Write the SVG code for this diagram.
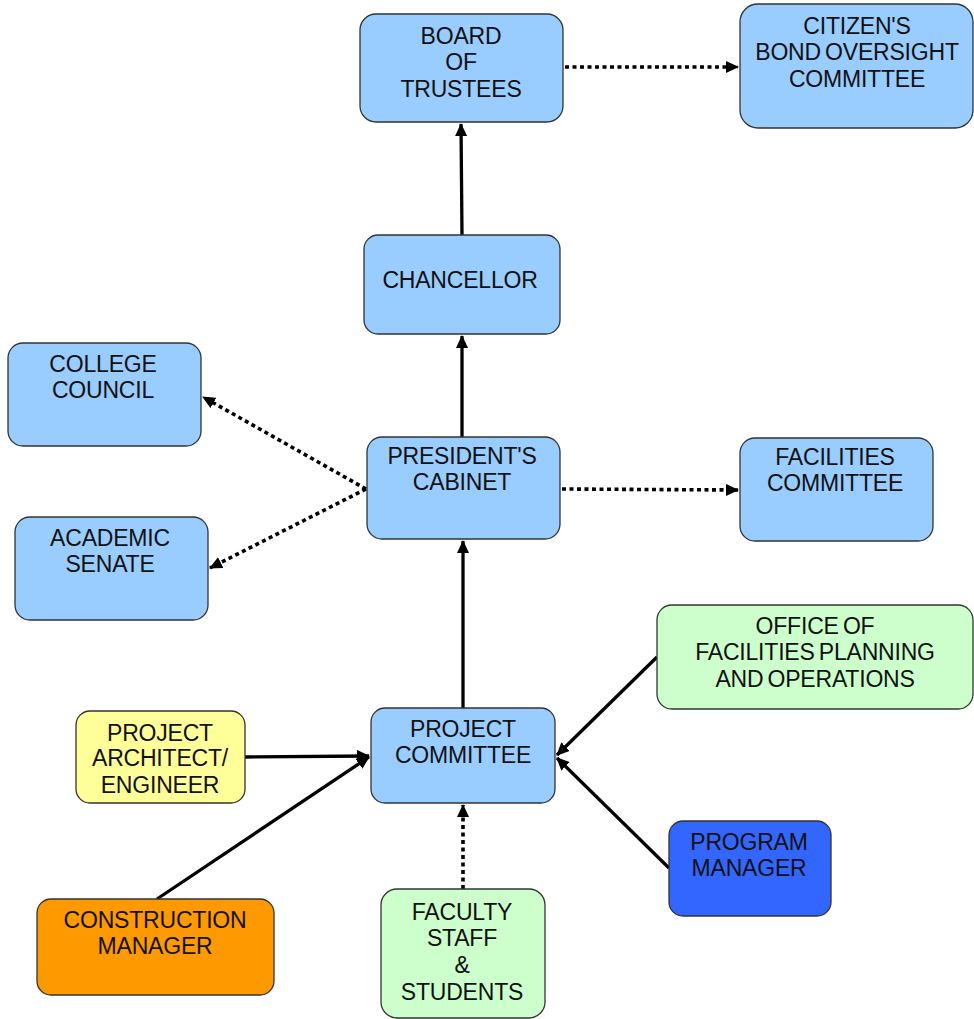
<svg xmlns="http://www.w3.org/2000/svg" width="974" height="1019" viewBox="0 0 974 1019">
<style>
.n rect{stroke:#333;stroke-width:1.3}
.b rect{fill:#99CCFF}
.g rect{fill:#CCFFCC}
.y rect{fill:#FFFF99}
.o rect{fill:#FF9900}
.d rect{fill:#3366FF}
text{font-family:"Liberation Sans",Arial,sans-serif;font-size:23px;fill:#111;text-anchor:middle;letter-spacing:-0.2px;word-spacing:-2px}
.c line{stroke:#000;stroke-width:3.3;fill:none}
.c .dt{stroke-dasharray:4 3.5;stroke-width:3.6}
</style>
<defs>
<marker id="ah" markerUnits="userSpaceOnUse" markerWidth="14" markerHeight="12" refX="12" refY="6" orient="auto">
<path d="M0,0 L13,6 L0,12 Z" fill="#000"/>
</marker>
</defs>
<g class="c" id="connectors">
<line x1="462" y1="235" x2="461" y2="124" marker-end="url(#ah)"/>
<line x1="462" y1="437" x2="462" y2="336" marker-end="url(#ah)"/>
<line x1="463" y1="708" x2="463" y2="541" marker-end="url(#ah)"/>
<line class="dt" x1="565" y1="67" x2="738" y2="67" marker-end="url(#ah)"/>
<line class="dt" x1="366" y1="489" x2="203" y2="397" marker-end="url(#ah)"/>
<line class="dt" x1="366" y1="489" x2="210" y2="568" marker-end="url(#ah)"/>
<line class="dt" x1="562" y1="489" x2="738" y2="490" marker-end="url(#ah)"/>
<line x1="245" y1="757" x2="369" y2="756" marker-end="url(#ah)"/>
<line x1="157" y1="899" x2="369" y2="757" marker-end="url(#ah)"/>
<line x1="657" y1="657" x2="557" y2="755" marker-end="url(#ah)"/>
<line x1="669" y1="868" x2="557" y2="758" marker-end="url(#ah)"/>
<line class="dt" x1="463" y1="889" x2="463" y2="805" marker-end="url(#ah)"/>
</g>
<g id="board" class="n b"><rect x="360" y="14" width="203" height="108" rx="16"/><text x="461" y="44">BOARD</text><text x="461" y="70">OF</text><text x="461" y="97">TRUSTEES</text></g>
<g id="citizens" class="n b"><rect x="740" y="4" width="233" height="124" rx="18"/><text x="857" y="34">CITIZEN'S</text><text x="857" y="60">BOND OVERSIGHT</text><text x="857" y="87">COMMITTEE</text></g>
<g id="chancellor" class="n b"><rect x="364" y="235" width="196" height="99" rx="14"/><text x="460" y="288">CHANCELLOR</text></g>
<g id="college-council" class="n b"><rect x="8" y="343" width="193" height="103" rx="15"/><text x="103" y="372">COLLEGE</text><text x="103" y="398">COUNCIL</text></g>
<g id="presidents-cabinet" class="n b"><rect x="367" y="437" width="193" height="102" rx="15"/><text x="462" y="464">PRESIDENT'S</text><text x="462" y="490">CABINET</text></g>
<g id="facilities-committee" class="n b"><rect x="740" y="438" width="193" height="103" rx="15"/><text x="835" y="465">FACILITIES</text><text x="835" y="491">COMMITTEE</text></g>
<g id="academic-senate" class="n b"><rect x="15" y="517" width="193" height="103" rx="15"/><text x="110" y="546">ACADEMIC</text><text x="110" y="572">SENATE</text></g>
<g id="office-facilities" class="n g"><rect x="657" y="605" width="316" height="104" rx="15"/><text x="815" y="634">OFFICE OF</text><text x="815" y="660">FACILITIES PLANNING</text><text x="815" y="687">AND OPERATIONS</text></g>
<g id="project-architect" class="n y"><rect x="76" y="711" width="169" height="92" rx="14"/><text x="160" y="741">PROJECT</text><text x="160" y="766">ARCHITECT/</text><text x="160" y="793">ENGINEER</text></g>
<g id="project-committee" class="n b"><rect x="371" y="708" width="184" height="95" rx="14"/><text x="463" y="737">PROJECT</text><text x="463" y="763">COMMITTEE</text></g>
<g id="program-manager" class="n d"><rect x="669" y="821" width="162" height="95" rx="14"/><text x="749" y="850">PROGRAM</text><text x="749" y="876">MANAGER</text></g>
<g id="construction-manager" class="n o"><rect x="37" y="899" width="237" height="96" rx="14"/><text x="155" y="928">CONSTRUCTION</text><text x="155" y="954">MANAGER</text></g>
<g id="faculty" class="n g"><rect x="381" y="889" width="164" height="129" rx="16"/><text x="462" y="920">FACULTY</text><text x="462" y="946">STAFF</text><text x="462" y="973">&amp;</text><text x="462" y="1000">STUDENTS</text></g>
</svg>
